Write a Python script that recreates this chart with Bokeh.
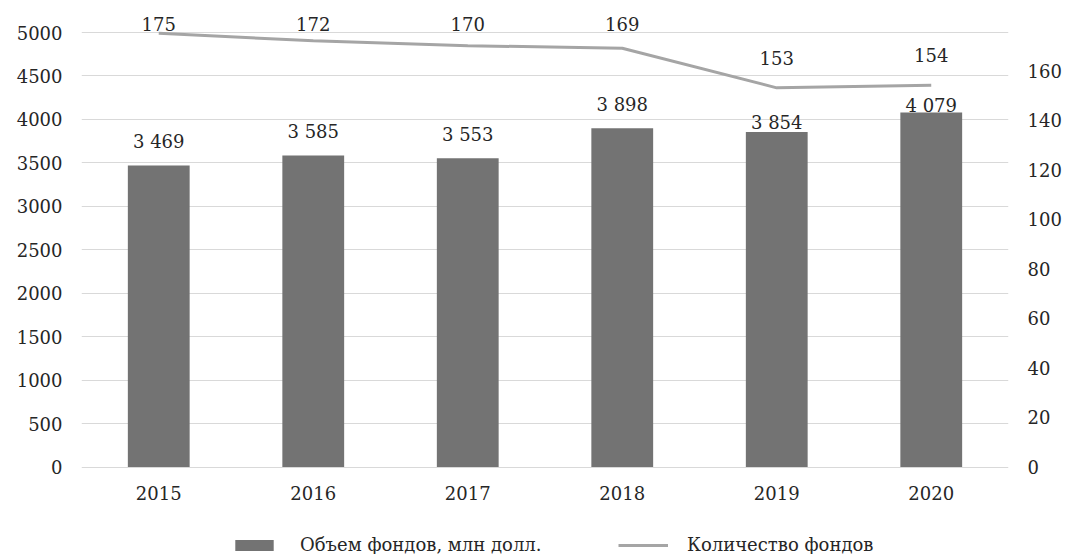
from bokeh.plotting import figure
from bokeh.models import (ColumnDataSource, Range1d, LinearAxis, FixedTicker,
                          LabelSet, Legend, LegendItem, FactorRange)
from bokeh.embed import file_html
from bokeh.resources import INLINE
from bokeh.core.properties import value

# ---- data ----
years = ["2015", "2016", "2017", "2018", "2019", "2020"]
volume = [3469, 3585, 3553, 3898, 3854, 4079]      # Объем фондов, млн долл.
count = [175, 172, 170, 169, 153, 154]             # Количество фондов
left_ticks = [0, 500, 1000, 1500, 2000, 2500, 3000, 3500, 4000, 4500, 5000]
right_ticks = [0, 20, 40, 60, 80, 100, 120, 140, 160]
series_names = ["Объем фондов, млн долл.", "Количество фондов"]

# ---- style / layout ----
FONT = "DejaVu Serif"
TEXT = "#262626"
BAR_COLOR = "#737373"
LINE_COLOR = "#A5A5A5"
W, H = 1065, 554
MB_L, MB_R = 81, 57
ZERO_Y = 466.5        # screen row of value 0
PX_LEFT = 434.5 / 5000  # px per unit, left axis
PX_RIGHT = 396.5 / 160  # px per unit, right axis
below = H - ZERO_Y
LEFT_START, LEFT_END = -below / PX_LEFT, ZERO_Y / PX_LEFT
RIGHT_START, RIGHT_END = -below / PX_RIGHT, ZERO_Y / PX_RIGHT

bar_label_offsets_px = [24, 24, 24, 24, 10, 7]
vol_label_y = [v + o / PX_LEFT for v, o in zip(volume, bar_label_offsets_px)]
vol_labels = [f"{v:,}".replace(",", "\u00a0") for v in volume]
count_top = (ZERO_Y - 23) / PX_RIGHT
count_label_y = [min(c + 30 / PX_RIGHT, count_top) for c in count]
count_labels = [str(c) for c in count]

src = ColumnDataSource(dict(year=years, volume=volume, count=count,
                            vol_label=vol_labels, vol_y=vol_label_y,
                            count_txt=count_labels, count_y=count_label_y))

p = figure(width=W, height=H,
           x_range=FactorRange(*years, range_padding=0),
           y_range=Range1d(LEFT_START, LEFT_END),
           output_backend="svg", toolbar_location=None,
           min_border_left=MB_L, min_border_right=MB_R,
           min_border_top=0, min_border_bottom=0)
p.outline_line_color = None
p.background_fill_color = "white"
p.border_fill_color = "white"

p.extra_y_ranges = {"right": Range1d(RIGHT_START, RIGHT_END)}

bars = p.vbar(x="year", top="volume", bottom=0, width=0.4, source=src,
              fill_color=BAR_COLOR, line_color=None)
line = p.line(x="year", y="count", source=src, y_range_name="right",
              line_color=LINE_COLOR, line_width=3)

# axes
right_axis = LinearAxis(y_range_name="right", ticker=FixedTicker(ticks=right_ticks))
p.add_layout(right_axis, "right")
p.yaxis[0].ticker = FixedTicker(ticks=left_ticks)
p.xaxis[0].fixed_location = 0

for ax in [p.xaxis[0], p.yaxis[0], right_axis]:
    ax.axis_line_color = None
    ax.major_tick_line_color = None
    ax.minor_tick_line_color = None
    ax.major_tick_out = 0
    ax.major_tick_in = 0
    ax.major_label_text_font = FONT
    ax.major_label_text_font_size = "18px"
    ax.major_label_text_color = TEXT
p.xaxis[0].major_label_standoff = 19
p.yaxis[0].major_label_standoff = 19
right_axis.major_label_standoff = 19

p.xgrid.grid_line_color = None
p.ygrid.ticker = FixedTicker(ticks=left_ticks)
p.ygrid.grid_line_color = "#D9D9D9"
p.ygrid.grid_line_width = 1

# data labels
p.add_layout(LabelSet(x="year", y="vol_y", text="vol_label", source=src,
                      text_align="center", text_baseline="middle",
                      text_font=value(FONT), text_font_size="18px",
                      text_color=TEXT))
p.add_layout(LabelSet(x="year", y="count_y", text="count_txt", source=src,
                      y_range_name="right",
                      text_align="center", text_baseline="middle",
                      text_font=value(FONT), text_font_size="18px",
                      text_color=TEXT))

# legends at the bottom
common = dict(orientation="horizontal", padding=0, margin=0, spacing=0,
              border_line_color=None, background_fill_alpha=0,
              label_text_font=FONT, label_text_font_size="18px",
              label_text_color=TEXT, glyph_height=14)
leg1 = Legend(items=[LegendItem(label=series_names[0], renderers=[bars])],
              location=(230 - MB_L, -1), glyph_width=48, label_standoff=22, **common)
leg2 = Legend(items=[LegendItem(label=series_names[1], renderers=[line])],
              location=(618 - MB_L, -1), glyph_width=50, label_standoff=19, **common)
p.add_layout(leg1)
p.add_layout(leg2)

open("out.html", "w").write(file_html(p, INLINE))
